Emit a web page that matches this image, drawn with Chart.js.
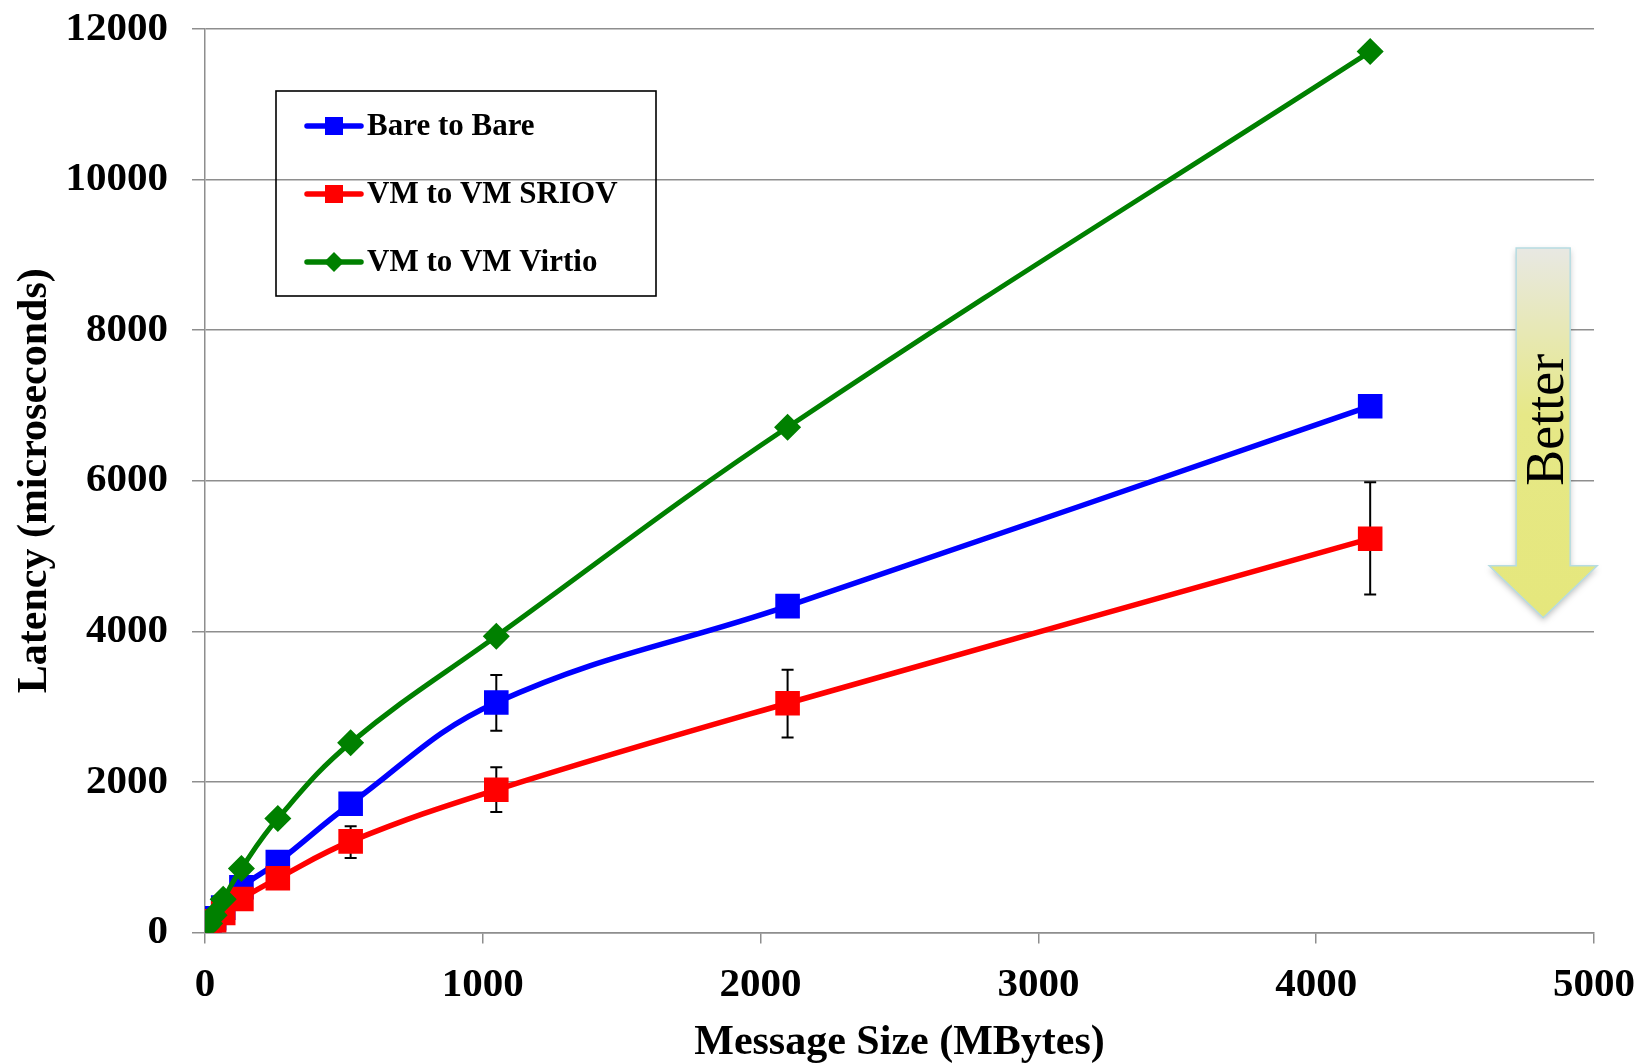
<html>
<head>
  <title>Latency vs Message Size</title>
  <style>
    html, body { margin: 0; padding: 0; background: #fff; }
    #wrap { width: 1641px; height: 1064px; }
  </style>
</head>
<body>
<div id="wrap">
  <canvas id="myChart" width="1641" height="1064"></canvas>
</div>

<script src="https://cdn.jsdelivr.net/npm/chart.js"></script>

<script>
  // message sizes (x)
  const sizes = [4.096, 8.192, 16.384, 32.768, 65.536, 131.072, 262.144, 524.288, 1048.576, 2097.152, 4194.304]
  // latency, microseconds
  const bareToBare = [80, 100, 130, 190, 330, 600, 935, 1710, 3055, 4335, 6990]
  const vmSriov    = [40, 55, 80, 150, 260, 445, 720, 1210, 1895, 3045, 5230]
  const vmVirtio   = [70, 90, 120, 230, 440, 850, 1515, 2520, 3935, 6710, 11700]
  // error bars (low / high), null = none
  const bareLow  = [null, null, null, null, null, null, null, 1585, 2680, null, null]
  const bareHigh = [null, null, null, null, null, null, null, 1830, 3420, null, null]
  const sriovLow  = [null, null, null, null, null, null, null, 990, 1600, 2590, 4490]
  const sriovHigh = [null, null, null, null, null, null, null, 1410, 2195, 3490, 5980]

  const seriesNames = ['Bare to Bare', 'VM to VM SRIOV', 'VM to VM Virtio']
  const yTicks = [0, 2000, 4000, 6000, 8000, 10000, 12000]
  const xTicks = [0, 1000, 2000, 3000, 4000, 5000]

  const toPts = arr => arr.map((v, i) => ({x: sizes[i], y: v}))
  const serif = "'Liberation Serif', 'Times New Roman', serif"
  const gridGray = '#8e8e8e'

  Chart.defaults.font.family = serif
  Chart.defaults.color = '#000'

  const errorBars = {
    id: 'errorBars',
    beforeDatasetsDraw(chart) {
      const {ctx, scales: {x, y}} = chart
      const sets = [[bareLow, bareHigh], [sriovLow, sriovHigh]]
      ctx.save()
      ctx.strokeStyle = '#000'
      ctx.lineWidth = 2
      sets.forEach(([lo, hi]) => {
        sizes.forEach((s, i) => {
          if (lo[i] == null) return
          const px = x.getPixelForValue(s)
          const y1 = y.getPixelForValue(lo[i])
          const y2 = y.getPixelForValue(hi[i])
          ctx.beginPath()
          ctx.moveTo(px, y1); ctx.lineTo(px, y2)
          ctx.moveTo(px - 6, y1); ctx.lineTo(px + 6, y1)
          ctx.moveTo(px - 6, y2); ctx.lineTo(px + 6, y2)
          ctx.stroke()
        })
      })
      ctx.restore()
    }
  }

  const betterArrow = {
    id: 'betterArrow',
    afterDatasetsDraw(chart) {
      const {ctx, scales: {x, y}} = chart
      const cx = x.getPixelForValue(4817)
      const top = y.getPixelForValue(9090)
      const neck = y.getPixelForValue(4870)
      const tip = y.getPixelForValue(4180)
      const sw = 27, hw = 54
      ctx.save()
      ctx.beginPath()
      ctx.moveTo(cx - sw, top)
      ctx.lineTo(cx + sw, top)
      ctx.lineTo(cx + sw, neck)
      ctx.lineTo(cx + hw, neck)
      ctx.lineTo(cx, tip)
      ctx.lineTo(cx - hw, neck)
      ctx.lineTo(cx - sw, neck)
      ctx.closePath()
      const g = ctx.createLinearGradient(0, top, 0, tip)
      g.addColorStop(0, '#e8e8e3')
      g.addColorStop(0.45, '#e6e887')
      g.addColorStop(1, '#e5e77c')
      ctx.shadowColor = 'rgba(0,0,0,0.25)'
      ctx.shadowBlur = 6
      ctx.shadowOffsetY = 3
      ctx.fillStyle = g
      ctx.fill()
      ctx.shadowColor = 'transparent'
      ctx.strokeStyle = '#b6dce2'
      ctx.lineWidth = 1.5
      ctx.stroke()
      ctx.translate(cx + 6, y.getPixelForValue(6810))
      ctx.rotate(-Math.PI / 2)
      ctx.fillStyle = '#000'
      ctx.font = "54px " + serif
      ctx.textAlign = 'center'
      ctx.textBaseline = 'middle'
      ctx.fillText('Better', 0, 0)
      ctx.restore()
    }
  }

  const boxLegend = {
    id: 'boxLegend',
    afterDraw(chart) {
      const {ctx, chartArea} = chart
      const bx = chartArea.left + 71, by = chartArea.top + 62
      const bw = 380, bh = 205
      ctx.save()
      ctx.strokeStyle = '#000'
      ctx.lineWidth = 1.6
      ctx.strokeRect(bx, by, bw, bh)
      const order = [0, 1, 2]
      order.forEach((k, row) => {
        const ds = chart.data.datasets[k]
        const ry = by + 35 + row * 68
        ctx.strokeStyle = ds.borderColor
        ctx.lineWidth = 5.5
        ctx.lineCap = 'round'
        ctx.beginPath()
        ctx.moveTo(bx + 31, ry); ctx.lineTo(bx + 85, ry)
        ctx.stroke()
        ctx.fillStyle = ds.borderColor
        const mx = bx + 58
        if (ds.pointStyle === 'rectRot') {
          ctx.beginPath()
          ctx.moveTo(mx - 10, ry); ctx.lineTo(mx, ry - 10)
          ctx.lineTo(mx + 10, ry); ctx.lineTo(mx, ry + 10)
          ctx.closePath(); ctx.fill()
        } else {
          ctx.fillRect(mx - 9, ry - 9, 18, 18)
        }
        ctx.fillStyle = '#000'
        ctx.font = "bold 31px " + serif
        ctx.textAlign = 'left'
        ctx.textBaseline = 'middle'
        ctx.fillText(seriesNames[k], bx + 91, ry + 1)
      })
      ctx.restore()
    }
  }

  const ctx = document.getElementById('myChart')
  new Chart(ctx, {
    type: 'line',
    data: {
      datasets: [
        { label: seriesNames[0], data: toPts(bareToBare), borderColor: '#0000ff', backgroundColor: '#0000ff',
          pointStyle: 'rect', pointRadius: 13.5, pointHoverRadius: 13.5, borderWidth: 5.5, order: 2 },
        { label: seriesNames[1], data: toPts(vmSriov), borderColor: '#ff0000', backgroundColor: '#ff0000',
          pointStyle: 'rect', pointRadius: 13.5, pointHoverRadius: 13.5, borderWidth: 5.5, order: 1 },
        { label: seriesNames[2], data: toPts(vmVirtio), borderColor: '#008000', backgroundColor: '#008000',
          pointStyle: 'rectRot', pointRadius: 10, pointHoverRadius: 10, borderWidth: 5, order: 0 }
      ]
    },
    options: {
      responsive: false,
      animation: false,
      events: [],
      elements: { line: { tension: 0.4 }, point: { borderWidth: 0 } },
      layout: { padding: { top: 29, right: 47, left: 0, bottom: 0 } },
      plugins: { legend: { display: false }, tooltip: { enabled: false } },
      scales: {
        x: {
          type: 'linear', min: 0, max: 5000,
          afterBuildTicks: s => { s.ticks = xTicks.map(v => ({value: v})) },
          afterFit: s => { s.height = 131.5; s.paddingLeft = 0; s.paddingRight = 0 },
          ticks: { font: { size: 41, weight: 'bold' }, padding: 17, callback: v => String(v) },
          grid: { drawOnChartArea: false, drawTicks: true, tickLength: 11, color: gridGray, lineWidth: 1.5 },
          border: { display: true, color: gridGray, width: 1.5 },
          title: { display: true, text: 'Message Size (MBytes)', font: { size: 42, weight: 'bold', lineHeight: 1.0 }, padding: { top: 4, bottom: 0 } }
        },
        y: {
          min: 0, max: 12000,
          afterBuildTicks: s => { s.ticks = yTicks.map(v => ({value: v})) },
          afterFit: s => { s.width = 205; s.paddingTop = 0; s.paddingBottom = 0 },
          ticks: { font: { size: 41, weight: 'bold' }, padding: 24, callback: v => String(v) },
          grid: { color: gridGray, lineWidth: 1.5, tickLength: 13 },
          border: { display: true, color: gridGray, width: 1.5 },
          title: { display: true, text: 'Latency (microseconds)', font: { size: 42, weight: 'bold' }, padding: { top: 10, bottom: 4 } }
        }
      }
    },
    plugins: [errorBars, betterArrow, boxLegend]
  })
</script>
</body>
</html>
